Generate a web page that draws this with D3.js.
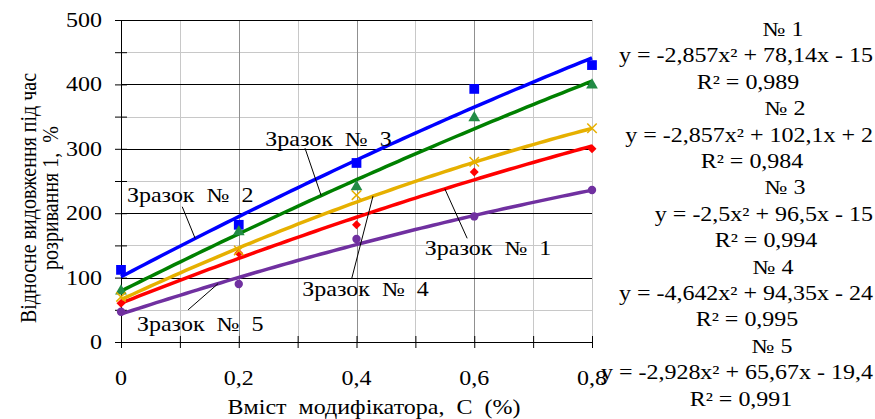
<!DOCTYPE html>
<html>
<head>
<meta charset="utf-8">
<script src="https://cdn.jsdelivr.net/npm/d3@7"></script>
</head>
<body style="margin:0;background:#fff">
<svg id="chart" width="875" height="419">
<text transform="translate(374,414) scale(1.2,1)" text-anchor="middle" font-family="Liberation Serif" font-size="20" fill="#000">Вміст&#160; модифікатора,&#160; С&#160; (%)</text>
<text transform="translate(36,198) scale(1.2,1) rotate(-90)" text-anchor="middle" font-family="Liberation Serif" font-size="20" fill="#000"><tspan x="0" dy="0">Відносне видовження під час</tspan><tspan x="0" dy="18.5">розривання 1,&#160; %</tspan></text>
</svg>
<script>
// вміст модифікатора, %
var contents = [0, 0.2, 0.4, 0.6, 0.8];
var xTickLabels = ["0", "0,2", "0,4", "0,6", "0,8"];
var yTicks = [0, 100, 200, 300, 400, 500];

// відносне видовження, %
var sample1 = [60, 138, 182, 264, 300];
var sample2 = [112, 182, 278, 393, 430];
var sample3 = [79, 171, 241, 348, 399];
var sample4 = [70, 142, 228, 280, 332];
var sample5 = [47, 90, 160, 195, 236];

var names = ["Зразок № 1", "Зразок № 2", "Зразок № 3", "Зразок № 4", "Зразок № 5"];
var numbers = ["№ 1", "№ 2", "№ 3", "№ 4", "№ 5"];

// коефіцієнти ліній тренду y = a*x^2 + b*x + c (x - номер точки)
var coefA = [-2.857, -2.857, -2.5, -4.642, -2.928];
var coefB = [78.14, 102.1, 96.5, 94.35, 65.67];
var coefC = [-15, 2, -15, -24, -19.4];
var rSquared = [0.989, 0.984, 0.994, 0.995, 0.991];

var colors = ["#ff0000", "#0000ff", "#008000", "#e6b000", "#7030a0"];
var markerColors = ["#ff0000", "#0000ff", "#228b45", "#e6b000", "#7030a0"];

var SX = 1.2; // текст у оригіналі розтягнутий по горизонталі
var svg = d3.select("#chart");
var margin = {left: 121, top: 20, right: 283, bottom: 77};
var width = 875 - margin.left - margin.right;
var height = 419 - margin.top - margin.bottom;

var x = d3.scaleLinear().domain([0, 0.8]).range([0, width]);
var y = d3.scaleLinear().domain([0, 500]).range([height, 0]);

var g = svg.append("g").attr("transform", "translate(" + margin.left + "," + margin.top + ")");

function wide(s){ return s.replace(/ /g, "\u00a0 "); }
function label(parent, px, py, anchor){
	return parent.append("text")
		.attr("transform", "translate(" + px + "," + py + ") scale(" + SX + ",1)")
		.attr("text-anchor", anchor)
		.attr("font-family", "Liberation Serif")
		.attr("font-size", 20)
		.attr("fill", "#000");
}

// сітка
var minorY = d3.range(50, 500, 100);
g.selectAll(".gy2").data(minorY).enter().append("line")
	.attr("x1", 0).attr("x2", width)
	.attr("y1", function(d){ return Math.round(y(d)) + 0.5; }).attr("y2", function(d){ return Math.round(y(d)) + 0.5; })
	.attr("stroke", "#c8c8c8");
var gx = d3.range(1, 9).map(function(i){ return i / 10; });
g.selectAll(".gx").data(gx).enter().append("line")
	.attr("x1", function(d){ return Math.round(x(d)) + 0.5; }).attr("x2", function(d){ return Math.round(x(d)) + 0.5; })
	.attr("y1", 0).attr("y2", height)
	.attr("stroke", function(d, i){ return (i % 2 == 1 && i < 7) ? "#909090" : "#c8c8c8"; });
g.selectAll(".gy").data(yTicks.slice(1)).enter().append("line")
	.attr("x1", 0).attr("x2", width)
	.attr("y1", function(d){ return Math.round(y(d)) + 0.5; }).attr("y2", function(d){ return Math.round(y(d)) + 0.5; })
	.attr("stroke", "#000");

// осі
var yAxis = d3.axisLeft(y).tickValues(d3.range(0, 501, 50)).tickSize(6).tickFormat("");
var ya = g.append("g").call(yAxis);
ya.select(".domain").attr("stroke", "#000");
ya.selectAll(".tick line").attr("x1", -6).attr("x2", 6).attr("stroke", "#000");
ya.selectAll("text").remove();
yTicks.forEach(function(v){
	label(g, -19, y(v) + 7, "end").text(v);
});

var xAxis = d3.axisBottom(x).tickValues(d3.range(0, 9).map(function(i){ return i / 10; })).tickSize(6).tickFormat("");
var xa = g.append("g").attr("transform", "translate(0," + height + ")").call(xAxis);
xa.select(".domain").attr("stroke", "#000").attr("d", "M0,0.5H" + width);
xa.selectAll(".tick line").attr("y1", -6).attr("y2", 6).attr("stroke", "#000");
xa.selectAll("text").remove();
contents.forEach(function(c, i){
	label(g, x(c), height + 43, "middle").text(xTickLabels[i]);
});

// лінії тренду
function trend(i, n){ return coefA[i] * n * n + coefB[i] * n + coefC[i]; }
function cToN(c){ return c / 0.2 + 1; }
var samples = [sample1, sample2, sample3, sample4, sample5];
var line = d3.line().x(function(d){ return x(d[0]); }).y(function(d){ return y(d[1]); });
var cs = d3.range(0, 81).map(function(k){ return k / 100; });
samples.forEach(function(s, i){
	g.append("path")
		.datum(cs.map(function(c){ return [c, trend(i, cToN(c))]; }))
		.attr("d", line).attr("fill", "none").attr("stroke", colors[i]).attr("stroke-width", 3.5);
});

// маркери
var shapes = [
	{type: d3.symbolSquare, size: 40, rot: 45},
	{type: d3.symbolSquare, size: 95, rot: 0},
	{type: d3.symbolTriangle, size: 60, rot: 0},
	{type: d3.symbolTimes || d3.symbolX, size: 60, rot: 0, stroke: true},
	{type: d3.symbolCircle, size: 55, rot: 0}
];
samples.forEach(function(s, i){
	var sh = shapes[i];
	var sym = d3.symbol().type(sh.type).size(sh.size);
	g.selectAll(".m" + i).data(s).enter().append("path")
		.attr("d", sym)
		.attr("transform", function(d, j){ return "translate(" + x(contents[j]) + "," + y(d) + ") rotate(" + sh.rot + ")"; })
		.attr("fill", sh.stroke ? "none" : markerColors[i])
		.attr("stroke", sh.stroke ? markerColors[i] : "none")
		.attr("stroke-width", 1.5);
});

// підписи зразків (позиції в одиницях даних)
var labelC = [0.516, 0.01, 0.245, 0.308, 0.027];
var labelV = [135, 217, 304, 71, 17];
var leadC = [0.588, 0.104, 0.3125, 0.392, 0.114];
var leadV = [161, 210, 301, 99, 50];
var targetC = [0.55, 0.126, 0.34, 0.428, 0.165];
names.forEach(function(nm, i){
	g.append("line")
		.attr("x1", x(leadC[i])).attr("y1", y(leadV[i]))
		.attr("x2", x(targetC[i])).attr("y2", y(trend(i, cToN(targetC[i]))))
		.attr("stroke", "#000").attr("stroke-width", 1);
	label(g, x(labelC[i]), y(labelV[i]), "start").text(wide(nm));
});

// рівняння
function num(v){ return String(v).replace(".", ","); }
var rCx = [748, 752, 766, 747, 741];
var noCx = [783, 785, 785, 773, 772];
var eqRight = 873;
var eqBase = 36, eqStep = 26.4;
coefA.forEach(function(a, i){
	var y0 = eqBase + i * 3 * eqStep;
	label(svg, noCx[i], y0, "middle").text(numbers[i]);
	label(svg, eqRight, y0 + eqStep, "end")
		.text("y = " + num(a) + "x² + " + num(coefB[i]) + "x " + (coefC[i] < 0 ? "- " : "+ ") + num(Math.abs(coefC[i])));
	label(svg, rCx[i], y0 + 2 * eqStep, "middle").text("R² = " + num(rSquared[i]));
});
</script>
</body>
</html>
